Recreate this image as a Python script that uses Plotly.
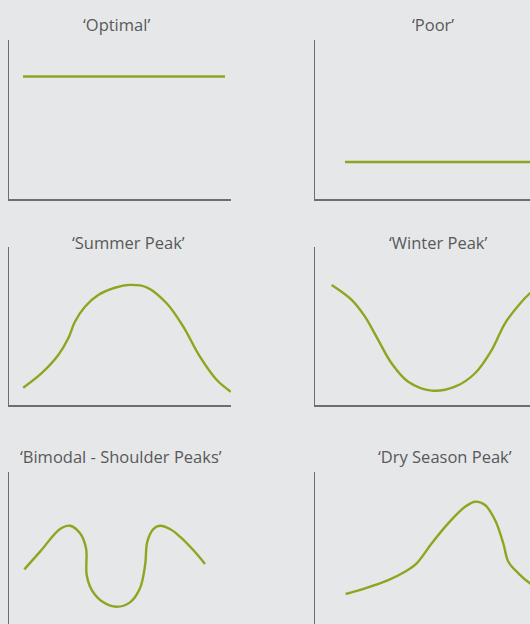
import plotly.graph_objects as go

W, H = 530, 624

# ---- data (generic 0-100 scales) ----
titles = ["‘Optimal’", "‘Poor’", "‘Summer Peak’", "‘Winter Peak’",
          "‘Bimodal - Shoulder Peaks’", "‘Dry Season Peak’"]

optimal_x = [6.3, 97.3]
optimal_y = [77, 77]

poor_x = [13.5, 100]
poor_y = [23.3, 23.3]

summer_x = [6.4, 14.7, 22.2, 26.7, 29.7, 34.2, 40.2, 47.7, 54.5, 62.0, 71.0, 78.5, 86.0, 93.6, 99.9]
summer_y = [10.9, 20.1, 31.6, 42.2, 52.7, 62.2, 69.6, 74.2, 76.0, 74.5, 64.4, 49.6, 30.6, 15.8, 8.4]

winter_x = [7.5, 16.5, 22.5, 28.5, 34.5, 42.0, 52.6, 63.1, 72.1, 79.6, 85.6, 92.5, 96.8, 100]
winter_y = [75.9, 66.5, 55.9, 41.1, 26.4, 14.7, 9.1, 11.6, 20.1, 34.8, 51.7, 64.4, 70.7, 74]

bimodal_x = [6.9, 14.0, 23.0, 27.5, 32.0, 34.7, 35.0, 37.3, 42.5, 48.5, 54.5, 59.0, 61.3,
             62.3, 65.0, 68.0, 72.5, 77.0, 83.0, 88.3]
bimodal_y = [38.4, 49.6, 63.9, 66.0, 61.2, 51.7, 34.8, 25.3, 17.5, 14.7, 17.5, 26.4, 41.1,
             55.9, 63.9, 66.0, 63.9, 59.1, 50.6, 41.8]

dry_x = [13.8, 22.5, 33.0, 40.5, 45.8, 52.6, 60.0, 67.6, 72.1, 76.6, 81.1, 84.8, 87.1, 91.6, 96.8, 100]
dry_y = [22.8, 26.4, 31.6, 36.9, 42.2, 54.9, 67.5, 78.0, 81.2, 79.1, 69.6, 54.9, 43.2, 35.9, 29.6, 27]

series = [(optimal_x, optimal_y), (poor_x, poor_y), (summer_x, summer_y),
          (winter_x, winter_y), (bimodal_x, bimodal_y), (dry_x, dry_y)]

# ---- styling / layout ----
BG = "#e6e7e8"
LINE = "#8fa51f"
AXIS = "#6d6e71"
TXT = "#58595b"

col_dom = [[9 / W, 231 / W], [315 / W, 1.0]]
col_rng = [[0, 100], [0, 100 * (W - 315) / 222]]
row_dom = [[(H - 199) / H, (H - 40) / H],
           [(H - 405) / H, (H - 247) / H],
           [0.0, (H - 472) / H]]
row_rng = [[0, 100], [0, 100], [100 - 100 * (H - 472) / 158, 100]]

title_pos = [(116, 25), (433, 25), (128, 243), (438, 243), (121, 456), (445, 456)]

fig = go.Figure()
layout = dict(
    width=W, height=H,
    margin=dict(l=0, r=0, t=0, b=0),
    paper_bgcolor=BG, plot_bgcolor=BG,
    showlegend=False, hovermode=False,
    annotations=[],
)

for i, (xs, ys) in enumerate(series):
    r, c = divmod(i, 2)
    n = i + 1
    xa = "x" if n == 1 else f"x{n}"
    ya = "y" if n == 1 else f"y{n}"
    fig.add_trace(go.Scatter(
        x=xs, y=ys, mode="lines", xaxis=xa, yaxis=ya,
        line=dict(color=LINE, width=2.4, shape="spline", smoothing=1.0),
    ))
    key = "" if n == 1 else str(n)
    layout["xaxis" + key] = dict(
        domain=col_dom[c], range=col_rng[c], anchor=ya,
        showgrid=False, zeroline=False, showticklabels=False, ticks="",
        showline=(r < 2), linecolor=AXIS, linewidth=1.5, fixedrange=True,
    )
    layout["yaxis" + key] = dict(
        domain=row_dom[r], range=row_rng[r], anchor=xa,
        showgrid=False, zeroline=False, showticklabels=False, ticks="",
        showline=True, linecolor=AXIS, linewidth=1.5, fixedrange=True,
    )
    tx, ty = title_pos[i]
    layout["annotations"].append(dict(
        text=titles[i], xref="paper", yref="paper",
        x=tx / W, y=1 - ty / H, xanchor="center", yanchor="middle",
        showarrow=False, font=dict(family="Open Sans", size=16.5, color=TXT),
    ))

fig.update_layout(**layout)
fig.write_html(
    "out.html",
    config={"displayModeBar": False, "staticPlot": True},
    post_script="document.body.style.margin='0';document.body.style.overflow='hidden';",
)
